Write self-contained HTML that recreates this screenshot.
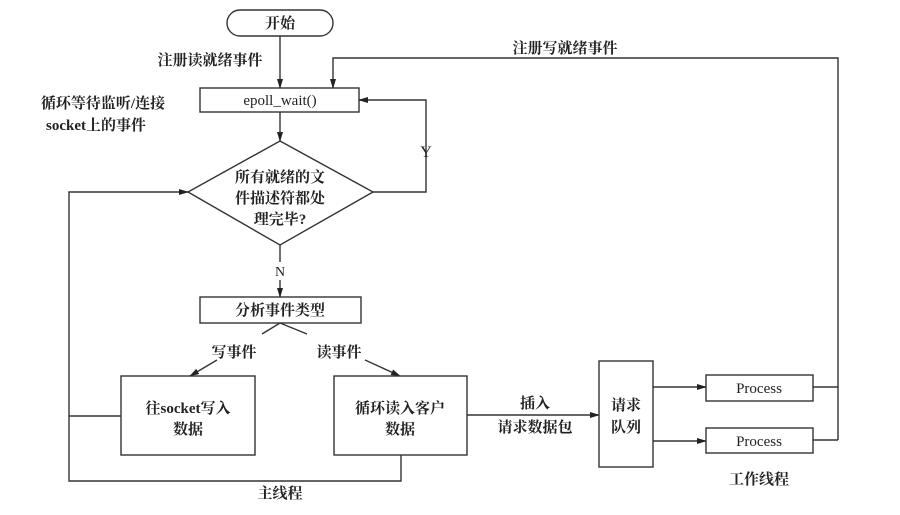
<!DOCTYPE html>
<html><head><meta charset="utf-8"><style>
html,body{margin:0;padding:0;background:#fff}
svg text{font-family:"Liberation Serif","Noto Serif CJK SC",serif;font-weight:bold;fill:#222}
svg text.n{font-weight:normal}
</style></head><body>
<svg width="900" height="510" viewBox="0 0 900 510" xmlns="http://www.w3.org/2000/svg">
<defs><marker id="a" markerWidth="10" markerHeight="8" refX="9" refY="4" orient="auto" markerUnits="userSpaceOnUse"><path d="M0,1 L10,4 L0,7 Z" fill="#222"/></marker></defs>
<g stroke="#333" stroke-width="1.4" fill="none">
<rect x="227" y="10" width="106" height="26" rx="13"/>
<line x1="280" y1="36" x2="280" y2="88" marker-end="url(#a)"/>
<polyline points="838,440 838,58 333,58 333,88" marker-end="url(#a)"/>
<rect x="200" y="88" width="159" height="24"/>
<line x1="280" y1="112" x2="280" y2="141" marker-end="url(#a)"/>
<polygon points="280,141 373,192 280,245 188,192"/>
<polyline points="373,192 426,192 426,100 359,100" marker-end="url(#a)"/>
<line x1="280" y1="245" x2="280" y2="262"/>
<line x1="280" y1="280" x2="280" y2="297" marker-end="url(#a)"/>
<rect x="200" y="297" width="161" height="26"/>
<line x1="280" y1="323" x2="262" y2="334"/>
<line x1="280" y1="323" x2="307" y2="334"/>
<line x1="217" y1="360" x2="190" y2="376" marker-end="url(#a)"/>
<line x1="365" y1="360" x2="400" y2="376" marker-end="url(#a)"/>
<rect x="121" y="376" width="134" height="79"/>
<rect x="334" y="376" width="133" height="79"/>
<polyline points="121,416 69,416"/>
<polyline points="401,455 401,481 69,481 69,192 188,192" marker-end="url(#a)"/>
<line x1="467" y1="415" x2="599" y2="415" marker-end="url(#a)"/>
<rect x="599" y="361" width="54" height="106"/>
<line x1="653" y1="387" x2="706" y2="387" marker-end="url(#a)"/>
<line x1="653" y1="441" x2="706" y2="441" marker-end="url(#a)"/>
<rect x="706" y="375" width="107" height="26"/>
<rect x="706" y="428" width="107" height="25"/>
<line x1="813" y1="387" x2="838" y2="387"/>
<line x1="813" y1="440" x2="838" y2="440"/>
</g>
<g font-size="15" text-anchor="middle">
<text x="280" y="28">开始</text>
<text x="210" y="65">注册读就绪事件</text>
<text x="565" y="53">注册写就绪事件</text>
<text x="103" y="108">循环等待监听/连接</text>
<text x="96" y="130">socket上的事件</text>
<text class="n" x="280" y="105">epoll_wait()</text>
<text class="n" x="426" y="157" font-size="16">Y</text>
<text x="280" y="182">所有就绪的文</text>
<text x="280" y="203">件描述符都处</text>
<text x="280" y="224">理完毕?</text>
<text class="n" x="280" y="276" font-size="14">N</text>
<text x="280" y="315">分析事件类型</text>
<text x="234" y="357">写事件</text>
<text x="339" y="357">读事件</text>
<text x="188" y="413">往socket写入</text>
<text x="188" y="434">数据</text>
<text x="400" y="413">循环读入客户</text>
<text x="400" y="434">数据</text>
<text x="280" y="498">主线程</text>
<text x="535" y="408">插入</text>
<text x="535" y="432">请求数据包</text>
<text x="626" y="410">请求</text>
<text x="626" y="432">队列</text>
<text class="n" x="759" y="393">Process</text>
<text class="n" x="759" y="446">Process</text>
<text x="759" y="484">工作线程</text>
</g>
</svg>
</body></html>
